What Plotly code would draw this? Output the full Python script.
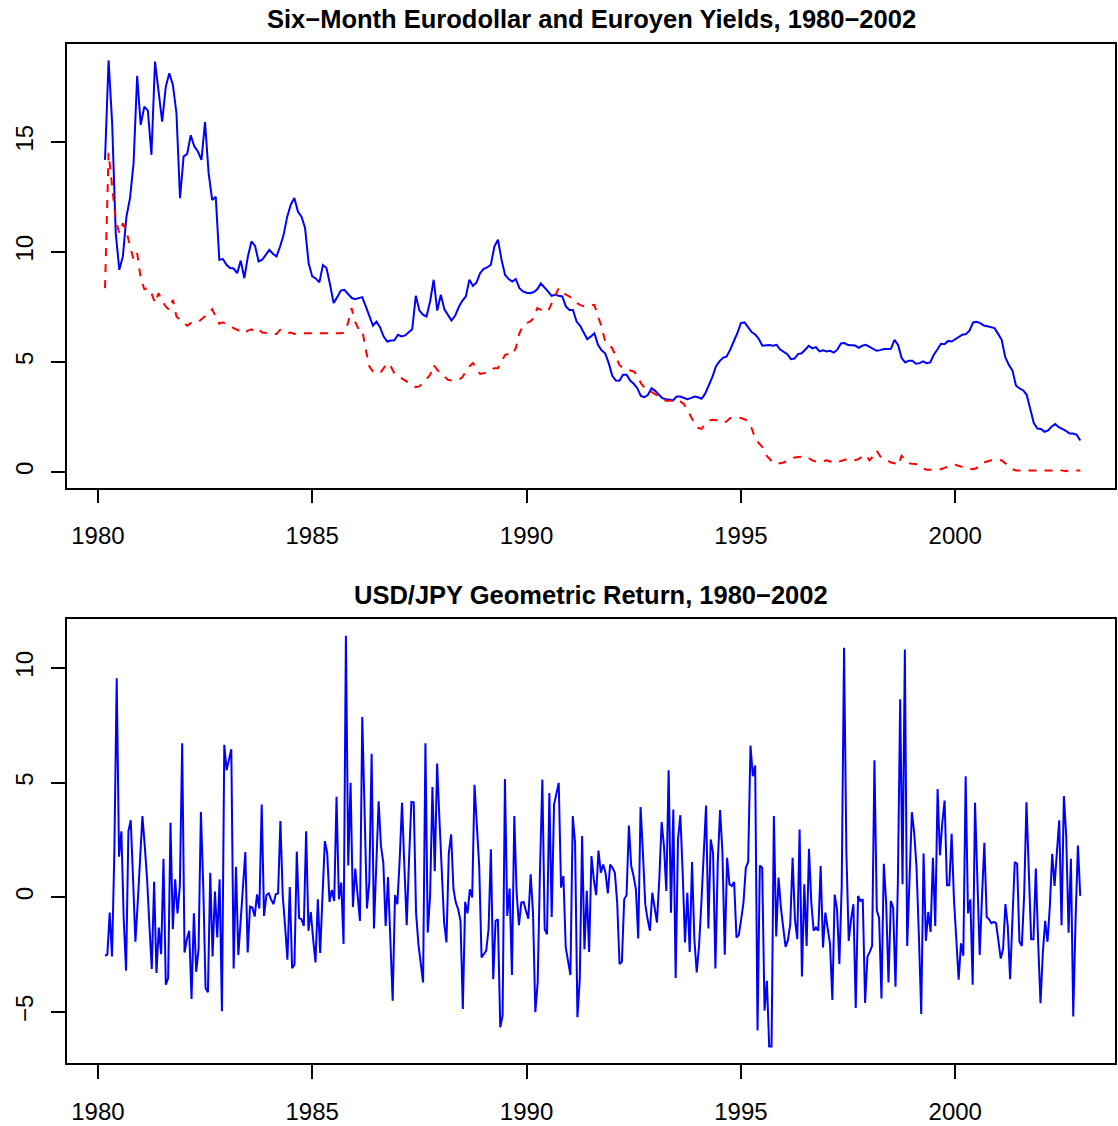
import numpy as np
import plotly.graph_objects as go

# ---------------- data ----------------
# Monthly six-month deposit yields, Mar 1980 .. Dec 2002 (percent)
eurodollar = [
    14.18, 18.7, 15.85, 10.85, 9.18, 9.79, 11.6, 12.44, 14.03, 18.0, 15.77, 16.6, 16.42, 14.41, 18.65,
    17.36, 15.92, 17.5, 18.12, 17.59, 16.3, 12.44, 14.33, 14.45, 15.3, 14.79, 14.56, 14.18, 15.9, 13.58,
    12.36, 12.5, 9.64, 9.67, 9.41, 9.26, 9.24, 9.03, 9.6, 8.8, 9.79, 10.47, 10.27, 9.56, 9.64,
    9.86, 10.09, 9.91, 9.79, 10.24, 10.77, 11.6, 12.14, 12.45, 11.83,
    11.6, 11.08, 9.48, 8.88, 8.79, 8.61, 9.4, 9.26, 8.5, 7.67, 7.94, 8.24, 8.27, 8.09, 7.91,
    7.85, 7.89, 7.94, 7.52, 7.06, 6.65, 6.83, 6.56, 6.15, 5.92, 5.97, 5.98, 6.23, 6.15, 6.2,
    6.33, 6.48, 8.0, 7.33, 7.14, 7.06, 7.74, 8.73, 7.33, 8.05, 7.39, 7.14, 6.88, 7.09, 7.48,
    7.77, 7.97, 8.73, 8.45, 8.61, 9.03, 9.23, 9.29, 9.41, 10.24, 10.55,
    9.64, 8.95, 8.76, 8.65, 8.76, 8.35, 8.2, 8.14, 8.12, 8.17, 8.3, 8.56, 8.39, 8.2, 8.0,
    8.05, 8.0, 7.97, 7.52, 7.36, 7.36, 6.83, 6.64, 6.33, 6.03, 6.15, 6.3, 5.77, 5.52, 5.39,
    4.94, 4.36, 4.15, 4.14, 4.41, 4.41, 4.15, 4.0, 3.8, 3.45, 3.39, 3.5, 3.8, 3.68, 3.5,
    3.35, 3.3, 3.29, 3.24, 3.42, 3.42, 3.36, 3.3, 3.35, 3.42, 3.39,
    3.32, 3.55, 3.95, 4.3, 4.79, 5.02, 5.18, 5.24, 5.55, 5.92, 6.3, 6.76, 6.79, 6.58, 6.35,
    6.24, 6.05, 5.73, 5.76, 5.76, 5.73, 5.77, 5.56, 5.47, 5.35, 5.12, 5.15, 5.35, 5.39, 5.55,
    5.73, 5.61, 5.67, 5.47, 5.52, 5.47, 5.5, 5.42, 5.55, 5.83, 5.85, 5.76, 5.76, 5.74, 5.64,
    5.73, 5.77, 5.68, 5.58, 5.5, 5.53, 5.58, 5.58, 5.59, 6.0,
    5.77, 5.17, 4.97, 5.05, 5.05, 4.91, 4.94, 5.02, 4.94, 4.97, 5.32, 5.56, 5.82, 5.8, 5.95,
    5.92, 6.03, 6.11, 6.23, 6.26, 6.42, 6.79, 6.82, 6.76, 6.65, 6.62, 6.59, 6.53, 6.27, 6.0,
    5.21, 4.86, 4.61, 3.92, 3.79, 3.71, 3.5, 2.82, 2.21, 1.97, 1.95, 1.82, 1.88, 2.06, 2.17,
    2.03, 1.95, 1.86, 1.74, 1.74, 1.68, 1.42,
]

euroyen = [
    8.35, 14.5, 12.97, 11.45, 10.85, 11.3, 10.92, 10.24, 9.64, 9.94, 8.8, 8.3, 8.35, 8.12, 7.67,
    8.12, 7.74, 7.52, 7.36, 7.82, 7.06, 6.91, 6.76, 6.64, 6.76, 6.76, 6.79, 6.94, 7.06, 7.21,
    7.39, 7.06, 6.73, 6.79, 6.73, 6.64, 6.53, 6.45, 6.38, 6.3, 6.42, 6.48, 6.38, 6.48, 6.33,
    6.3, 6.3, 6.27, 6.26, 6.45, 6.38, 6.3, 6.33, 6.27, 6.3,
    6.3, 6.27, 6.3, 6.3, 6.27, 6.27, 6.27, 6.3, 6.3, 6.27, 6.27, 6.3, 6.33, 6.76, 7.44,
    6.83, 6.48, 6.45, 5.55, 4.79, 4.56, 4.48, 4.48, 4.71, 4.94, 4.79, 4.48, 4.36, 4.26, 4.15,
    4.03, 3.95, 3.85, 3.88, 4.03, 4.21, 4.41, 4.86, 4.64, 4.48, 4.33, 4.18, 4.15, 4.15, 4.18,
    4.3, 4.56, 4.79, 4.94, 4.71, 4.45, 4.48, 4.52, 4.64, 4.71, 4.71,
    5.02, 5.32, 5.36, 5.32, 5.62, 6.3, 6.64, 6.76, 6.83, 6.98, 7.44, 7.36, 7.29, 7.29, 7.67,
    7.97, 8.35, 8.2, 8.05, 7.97, 7.82, 7.67, 7.59, 7.52, 7.52, 7.55, 7.59, 7.06, 6.61, 5.92,
    5.77, 5.62, 5.24, 4.86, 4.71, 4.67, 4.61, 4.56, 4.41, 4.03, 3.83, 3.73, 3.61, 3.5, 3.42,
    3.3, 3.23, 3.23, 3.24, 3.27, 3.2, 3.09, 2.82, 2.52, 2.2, 2.0,
    1.95, 2.18, 2.33, 2.36, 2.36, 2.33, 2.24, 2.29, 2.44, 2.44, 2.47, 2.44, 2.39, 2.29, 1.98,
    1.53, 1.3, 1.12, 0.77, 0.58, 0.42, 0.36, 0.39, 0.42, 0.52, 0.55, 0.65, 0.67, 0.67, 0.7,
    0.62, 0.52, 0.47, 0.45, 0.48, 0.52, 0.47, 0.39, 0.44, 0.48, 0.55, 0.59, 0.58, 0.53, 0.58,
    0.7, 0.77, 0.52, 0.7, 0.97, 0.7, 0.58, 0.52, 0.42, 0.39,
    0.29, 0.73, 0.55, 0.39, 0.36, 0.35, 0.23, 0.15, 0.09, 0.09, 0.09, 0.09, 0.12, 0.18, 0.24,
    0.29, 0.32, 0.27, 0.21, 0.17, 0.15, 0.12, 0.17, 0.32, 0.42, 0.47, 0.52, 0.52, 0.52, 0.52,
    0.39, 0.24, 0.12, 0.06, 0.06, 0.05, 0.03, 0.05, 0.06, 0.06, 0.06, 0.06, 0.06, 0.06, 0.06,
    0.09, 0.06, 0.03, 0.05, 0.06, 0.06, 0.06,
]

# USD/JPY geometric return (percent), same span, finer sampling
usdjpy_return = [
    -2.55, -2.5, -0.67, -2.58, 2.0, 9.55, 1.77, 2.88, -0.96, -3.2, 2.88, 3.36, 0.78, -1.94, -0.23,
    1.8, 3.54, 2.23, 0.78, -1.25, -3.13, 0.68, -3.3, -1.32, -2.48, 1.68, -3.81, -3.52, 3.25, -1.39,
    0.78, -0.7, 0.49, 6.72, -2.41, -1.83, -1.46, -4.43, -0.7, -3.25, -2.26, 3.72, 0.49, -3.97, -4.14,
    1.07, -2.58, 0.25, -1.75, 0.78, -4.97, 6.65, 5.54, 6.0, 6.46, -3.1, 1.33, -2.52, -0.96, 0.64,
    1.97, -2.41, -0.41, -0.45, -0.84, 0.13, -0.49, 4.04, -0.81,
    0.09, 0.17, -0.09, -0.3, 0.13, 0.17, 3.32, 0.06, -1.25, -2.72, 0.45, -3.09, -2.94, 1.99, -0.91,
    -0.96, -1.25, 2.88, -1.46, -0.64, -1.83, -2.84, -0.09, -2.43, 0.06, 2.45, 1.94, -0.2, 0.32, -0.16,
    4.38, -0.09, 0.64, -2.04, 11.4, 1.39, 4.99, -0.42, 1.25, 0.17, -1.03, 7.86, 3.39, -0.49, 0.64,
    6.26, -1.36, 1.94, 4.19, 2.23, 1.51, -1.25, 0.88, -1.83, -4.51, 0.1, -0.3, 1.65, 4.12, 1.36,
    -1.22, 1.65, 4.16, 4.14, -0.67, -2.04, -2.84, -3.71, 6.72,
    -1.54, 0.06, 4.81, 1.14, 5.83, 3.39, 1.07, -1.1, -1.97, 1.94, 2.74, 0.35, -0.23, -0.52, -1.03,
    -4.87, -0.2, -0.7, 0.35, -0.01, 4.91, 3.1, 1.36, -2.62, -2.48, -2.33, -1.39, 2.09, -3.57, -1.03,
    -0.96, -5.67, -5.16, 5.16, -0.81, 0.38, -3.39, 3.54, 0.2, -1.22, -0.23, -0.2, -0.59, -0.93, 1.0,
    -0.67, -5.01, -3.71, 1.22, 5.13, -1.39, -1.61, 4.55, -0.86, 4.04, 4.55, 4.99, 0.42, 0.93, -2.19,
    -2.84, -3.39, 3.54, 2.38, -5.23, -3.57, 2.67, -2.26, 0.28, -2.38, 1.8,
    0.78, 0.09, 2.04, 1.07, 1.43, 1.07, 0.17, 1.43, 1.29, 1.07, -0.23, -2.91, -2.81, -0.09, 0.09,
    3.13, 1.36, 0.93, 0.35, -1.8, 3.94, 1.94, -0.3, -0.96, -1.46, 0.2, -0.38, -1.1, 0.78, 3.28,
    2.23, 0.28, 5.54, -0.67, 3.83, -3.52, 2.52, 3.58, 1.07, -1.97, 0.2, -2.38, 1.54, -1.83, -3.28,
    -2.12, -0.23, 1.65, 4.0, -1.36, 2.52, 1.94, -3.1, 1.51, 3.8, 1.94, -2.51, 1.72, 0.57, 0.49,
    0.67, -1.75, -1.65, -0.96, -0.23, 1.29, 1.54, 6.62, 5.28, 5.75,
    -5.81, 1.39, 1.29, -4.94, -3.64, -6.51, -6.51, 3.54, -1.71, 0.86, -0.45, -1.32, -2.16, -1.87, -1.17,
    1.72, -0.96, -1.83, 2.96, -3.45, 0.57, -2.12, 2.12, -0.23, -1.46, -1.32, -1.46, 1.36, -2.19, -0.67,
    -1.39, -2.04, -4.48, 0.12, -0.52, -2.91, 0.49, 10.88, 1.94, -1.9, -0.96, -0.3, -4.83, 0.06, -0.16,
    -0.09, -4.61, -2.59, -2.38, -2.12, 5.97, -0.57, -0.91, -4.41, 1.46, -0.23, -3.71, -0.16, -0.45, -3.9,
    0.57, 8.64, 0.57, 10.81, -2.12, 0.78, 3.71, 2.81, 1.29, -1.68, -5.09,
    1.91, -1.9, -0.64, -1.51, 1.72, -1.25, 4.72, 1.83, 3.25, 4.22, 0.52, 0.52, 2.77, -0.09, -1.83,
    -3.59, -2.01, -2.55, 5.28, -0.7, -0.09, -3.81, 4.12, 0.49, -2.51, 0.06, 2.38, -0.86, -0.96, -1.13,
    -1.07, -1.13, -1.9, -2.67, -2.26, -0.3, -1.25, -3.57, -0.96, 1.54, 1.46, -1.94, -2.12, 0.06, 4.14,
    0.78, -1.83, -1.83, 1.25, -1.97, -4.62, -2.41, -1.03, -1.94, -0.38, 1.9, 0.49, 1.94, 3.36, -1.22,
    4.41, 2.67, -1.54, 1.68, -5.2, -0.96, 2.26, 0.06,
]

x_ticks = [1980, 1985, 1990, 1995, 2000]
y1_ticks = [0, 5, 10, 15]
y2_ticks = [-5, 0, 5, 10]
title_top = "Six\u2212Month Eurodollar and Euroyen Yields, 1980\u22122002"
title_bottom = "USD/JPY Geometric Return, 1980\u22122002"

# time axes (decimal years)
start, end = 1980 + 2 / 12, 2002 + 11 / 12
t_month = [1980 + (2 + i) / 12 for i in range(len(eurodollar))]
t_ret = list(np.linspace(start, end, len(usdjpy_return)))


def r_range(vals):
    lo, hi = min(vals), max(vals)
    pad = 0.04 * (hi - lo)
    return [lo - pad, hi + pad]


# ---------------- figure ----------------
W, H = 1118, 1126
mL, mR, mT, mB = 67, 1, 44, 62
ph = H - mT - mB
top_dom = [1 - (488 - mT) / ph, 1.0]
bot_dom = [0.0, 1 - (620 - mT) / ph]

FONT = "Liberation Sans, Arial, Helvetica, sans-serif"

fig = go.Figure()
fig.add_trace(go.Scatter(x=t_month, y=eurodollar, mode="lines",
                         line=dict(color="#0000FF", width=2), xaxis="x", yaxis="y",
                         name="Eurodollar"))
fig.add_trace(go.Scatter(x=t_month, y=euroyen, mode="lines",
                         line=dict(color="#FF0000", width=2, dash="8px,8px"), xaxis="x", yaxis="y",
                         name="Euroyen"))
fig.add_trace(go.Scatter(x=t_ret, y=usdjpy_return, mode="lines",
                         line=dict(color="#0000FF", width=2), xaxis="x2", yaxis="y2",
                         name="USD/JPY"))

xrange = [1979.28, 1979.28 + (W - mL - mR) / 42.95]

axis_common = dict(showline=True, mirror=True, linecolor="black", linewidth=1.5,
                   ticks="outside", ticklen=14, tickwidth=1.5, tickcolor="black",
                   showgrid=False, zeroline=False,
                   tickfont=dict(family=FONT, size=24, color="black"))

fig.update_layout(
    width=W, height=H, margin=dict(l=mL, r=mR, t=mT, b=mB),
    paper_bgcolor="white", plot_bgcolor="white", showlegend=False,
    xaxis=dict(domain=[0, 1], anchor="y", range=xrange, tickvals=x_ticks,
               ticklabelstandoff=12, **axis_common),
    yaxis=dict(domain=top_dom, anchor="x", range=r_range(eurodollar + euroyen),
               tickvals=y1_ticks, tickangle=-90, ticklabelstandoff=9, **axis_common),
    xaxis2=dict(domain=[0, 1], anchor="y2", range=xrange, tickvals=x_ticks,
                ticklabelstandoff=12, **axis_common),
    yaxis2=dict(domain=bot_dom, anchor="x2", range=r_range(usdjpy_return),
                tickvals=y2_ticks, tickangle=-90, ticklabelstandoff=9, **axis_common),
    annotations=[
        dict(text="<b>%s</b>" % title_top, x=0.5, y=(H - mB - 19) / ph, xref="paper", yref="paper",
             showarrow=False, xanchor="center", yanchor="middle",
             font=dict(family=FONT, size=25.5, color="black")),
        dict(text="<b>%s</b>" % title_bottom, x=0.5, y=(H - mB - 596) / ph, xref="paper", yref="paper",
             showarrow=False, xanchor="center", yanchor="middle",
             font=dict(family=FONT, size=25.5, color="black")),
    ],
)

fig.write_html("out.html", config={"displayModeBar": False},
               post_script="document.body.style.margin='0px';")
